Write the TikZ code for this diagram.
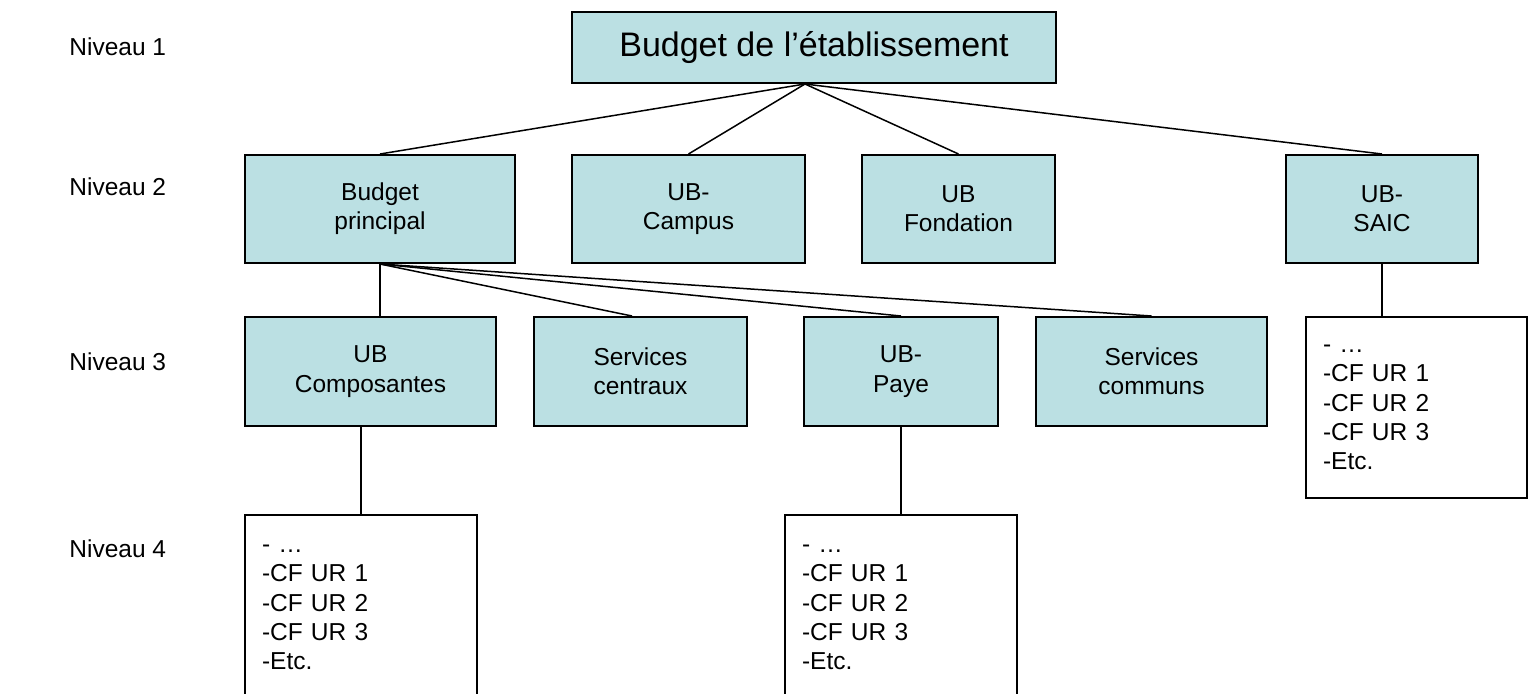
\documentclass[tikz,border=0pt]{standalone}
\usepackage{fontspec}
\setmainfont{Liberation Sans}
\definecolor{boxfill}{RGB}{187,224,227}
\begin{document}
\begin{tikzpicture}[x=0.5pt,y=-0.5pt,
  txt/.style={font=\fontsize{12.25}{14.6}\selectfont},
  lbox/.style={txt, draw=black, line width=1pt, fill=boxfill, align=center, inner sep=0pt},
  lst/.style={txt, draw=black, line width=1pt, fill=white, align=left, inner ysep=0pt, inner xsep=8.5pt},
  lvl/.style={txt, anchor=west, inner sep=0pt},
  conn/.style={draw=black, line width=0.75pt}]
\useasboundingbox (0,0) rectangle (1531,693);

% level labels
\node[lvl] (n1) at (69,47) {Niveau 1};
\node[lvl] (n2) at (69,187) {Niveau 2};
\node[lvl] (n3) at (69,362) {Niveau 3};
\node[lvl] (n4) at (69,549) {Niveau 4};

% level 1
\node[lbox, font=\fontsize{17}{20}\selectfont, minimum width=242pt, minimum height=35.5pt] (top) at (814,47.5) {Budget de l’établissement};

% level 2
\node[lbox, minimum width=135pt, minimum height=54pt] (bp) at (380,209) {Budget\\principal};
\node[lbox, minimum width=116.5pt, minimum height=54pt] (campus) at (688.5,209) {UB-\\Campus};
\node[lbox, minimum width=96.5pt, minimum height=54pt] (fond) at (958.5,209) {UB\\Fondation};
\node[lbox, minimum width=96pt, minimum height=54pt] (saic) at (1382,209) {UB-\\SAIC};

% level 3
\node[lbox, minimum width=125.5pt, minimum height=54.5pt] (comp) at (370.5,371.5) {UB\\Composantes};
\node[lbox, minimum width=106.5pt, minimum height=54.5pt] (centraux) at (640.5,371.5) {Services\\centraux};
\node[lbox, minimum width=97pt, minimum height=54.5pt] (paye) at (901,371.5) {UB-\\Paye};
\node[lbox, minimum width=115.5pt, minimum height=54.5pt] (communs) at (1151.5,371.5) {Services\\communs};

% lists
\node[lst, text width=99pt, minimum height=92.5pt] (l4a) at (361,607.5) {- …\\-CF UR 1\\-CF UR 2\\-CF UR 3\\-Etc.};
\node[lst, text width=99pt, minimum height=92.5pt] (l4b) at (901,607.5) {- …\\-CF UR 1\\-CF UR 2\\-CF UR 3\\-Etc.};
\node[lst, text width=93.5pt, minimum height=90.5pt] (l4c) at (1416.5,407.5) {- …\\-CF UR 1\\-CF UR 2\\-CF UR 3\\-Etc.};

% connectors
\coordinate (apex) at ([xshift=-4.5pt]top.south);
\draw[conn] (apex) -- (bp.north);
\draw[conn] (apex) -- (campus.north);
\draw[conn] (apex) -- (fond.north);
\draw[conn] (apex) -- (saic.north);

\draw[conn] (bp.south) -- (bp.south |- comp.north);
\draw[conn] (bp.south) -- ([xshift=-4.25pt]centraux.north);
\draw[conn] (bp.south) -- (paye.north);
\draw[conn] (bp.south) -- (communs.north);

\draw[conn] (l4a.north |- comp.south) -- (l4a.north);
\draw[conn] (paye.south) -- (l4b.north);
\draw[conn] (saic.south) -- (saic.south |- l4c.north);
\end{tikzpicture}
\end{document}
